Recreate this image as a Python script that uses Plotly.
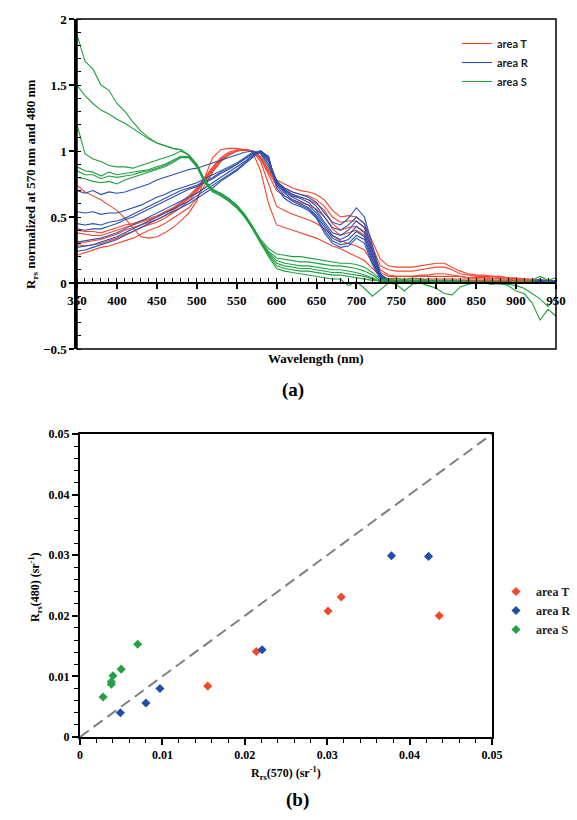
import plotly.graph_objects as go

# ---------------- data: panel (a) spectra, sampled every 10 nm ----------------
W = list(range(350, 951, 10))

# area T (red)
t1 = [0.74,0.69,0.66,0.63,0.59,0.55,0.49,0.42,0.35,0.34,0.35,
      0.38,0.42,0.47,0.53,0.62,0.80,0.95,1.01,1.02,1.02,
      1.01,0.99,0.85,0.60,0.44,0.42,0.40,0.38,0.36,0.34,
      0.31,0.28,0.26,0.23,0.20,0.17,0.11,0.05,0.03,0.02,
      0.02,0.02,0.02,0.02,0.02,0.02,0.02,0.02,0.02,0.02,
      0.02,0.02,0.01,0.01,0.01,0.01,0.01,0.01,0.01,0.01]
t2 = [0.40,0.39,0.39,0.38,0.40,0.42,0.44,0.45,0.47,0.49,0.51,
      0.54,0.57,0.61,0.66,0.72,0.80,0.88,0.95,0.99,1.01,
      1.01,1.00,0.96,0.86,0.78,0.75,0.72,0.70,0.69,0.67,
      0.63,0.55,0.50,0.51,0.50,0.45,0.32,0.18,0.13,0.12,
      0.12,0.12,0.13,0.14,0.15,0.15,0.12,0.09,0.07,0.06,
      0.06,0.05,0.05,0.04,0.04,0.03,0.03,0.02,0.02,0.01]
t3 = [0.38,0.37,0.36,0.36,0.38,0.40,0.42,0.44,0.46,0.48,0.50,
      0.53,0.56,0.60,0.65,0.71,0.79,0.87,0.94,0.98,1.00,
      1.01,1.00,0.95,0.85,0.76,0.72,0.69,0.67,0.66,0.63,
      0.58,0.50,0.46,0.47,0.47,0.42,0.28,0.13,0.10,0.09,
      0.09,0.09,0.10,0.11,0.12,0.12,0.10,0.07,0.06,0.05,
      0.05,0.05,0.04,0.04,0.03,0.03,0.02,0.02,0.02,0.01]
t4 = [0.31,0.31,0.32,0.33,0.35,0.37,0.40,0.42,0.44,0.46,0.48,
      0.51,0.55,0.59,0.64,0.70,0.78,0.86,0.93,0.97,1.00,
      1.01,1.00,0.94,0.82,0.70,0.66,0.63,0.61,0.59,0.56,
      0.50,0.41,0.36,0.38,0.40,0.36,0.22,0.08,0.05,0.05,
      0.05,0.05,0.05,0.05,0.05,0.05,0.05,0.05,0.04,0.04,
      0.04,0.04,0.03,0.03,0.03,0.02,0.02,0.02,0.01,0.01]
t5 = [0.29,0.28,0.29,0.30,0.32,0.34,0.37,0.39,0.42,0.44,0.46,
      0.49,0.53,0.57,0.62,0.69,0.77,0.85,0.92,0.97,1.00,
      1.01,1.00,0.92,0.75,0.58,0.55,0.52,0.50,0.48,0.45,
      0.41,0.36,0.32,0.30,0.28,0.25,0.16,0.06,0.03,0.03,
      0.03,0.03,0.03,0.03,0.03,0.03,0.03,0.03,0.03,0.03,
      0.03,0.02,0.02,0.02,0.02,0.02,0.01,0.01,0.01,0.01]
t6 = [0.21,0.23,0.25,0.27,0.28,0.30,0.32,0.34,0.37,0.40,0.42,
      0.45,0.49,0.53,0.57,0.64,0.74,0.84,0.92,0.97,1.00,
      1.01,1.00,0.95,0.84,0.74,0.70,0.67,0.65,0.63,0.60,
      0.55,0.45,0.40,0.42,0.43,0.39,0.25,0.10,0.06,0.05,
      0.05,0.05,0.06,0.06,0.07,0.07,0.06,0.05,0.04,0.04,
      0.04,0.03,0.03,0.03,0.02,0.02,0.02,0.01,0.01,0.01]

# area R (blue)
r1 = [0.70,0.68,0.70,0.67,0.69,0.68,0.69,0.71,0.73,0.75,0.78,
      0.80,0.82,0.84,0.86,0.87,0.89,0.91,0.93,0.95,0.97,
      0.99,1.00,0.98,0.88,0.77,0.72,0.69,0.67,0.65,0.61,
      0.53,0.46,0.44,0.49,0.57,0.50,0.28,0.07,0.02,0.01,
      0.01,0.01,0.01,0.01,0.01,0.01,0.01,0.01,0.01,0.01,
      0.01,0.01,0.01,0.01,0.00,0.00,0.00,0.01,0.02,0.01]
r2 = [0.54,0.53,0.54,0.52,0.53,0.53,0.55,0.57,0.59,0.62,0.65,
      0.67,0.70,0.72,0.74,0.76,0.79,0.82,0.85,0.88,0.91,
      0.95,0.99,0.99,0.90,0.77,0.71,0.67,0.65,0.63,0.58,
      0.50,0.42,0.40,0.44,0.50,0.45,0.25,0.06,0.02,0.01,
      0.01,0.01,0.01,0.01,0.01,0.01,0.01,0.01,0.01,0.01,
      0.01,0.01,0.01,0.00,0.00,0.00,0.00,0.02,0.01,0.01]
r3 = [0.45,0.44,0.45,0.44,0.46,0.47,0.49,0.52,0.55,0.58,0.61,
      0.64,0.67,0.70,0.72,0.74,0.77,0.80,0.84,0.87,0.90,
      0.94,0.98,1.00,0.92,0.78,0.70,0.66,0.64,0.61,0.55,
      0.46,0.38,0.36,0.40,0.47,0.42,0.22,0.05,0.02,0.01,
      0.01,0.01,0.01,0.01,0.01,0.01,0.01,0.01,0.01,0.01,
      0.01,0.01,0.00,0.00,0.00,0.00,0.01,0.03,0.01,0.02]
r4 = [0.41,0.40,0.41,0.41,0.43,0.45,0.48,0.50,0.53,0.56,0.59,
      0.62,0.65,0.68,0.71,0.73,0.76,0.79,0.83,0.86,0.90,
      0.94,0.98,1.00,0.93,0.76,0.69,0.65,0.62,0.59,0.53,
      0.44,0.36,0.33,0.36,0.43,0.38,0.20,0.05,0.02,0.01,
      0.01,0.01,0.01,0.01,0.01,0.01,0.01,0.01,0.01,0.01,
      0.01,0.00,0.00,0.00,0.00,0.00,0.00,0.01,0.00,0.01]
r5 = [0.31,0.32,0.33,0.34,0.36,0.38,0.41,0.44,0.47,0.50,0.53,
      0.56,0.59,0.62,0.65,0.68,0.72,0.76,0.80,0.84,0.88,
      0.92,0.97,1.00,0.94,0.76,0.68,0.63,0.60,0.57,0.51,
      0.42,0.34,0.31,0.33,0.39,0.35,0.18,0.04,0.01,0.01,
      0.01,0.01,0.01,0.01,0.01,0.01,0.01,0.01,0.01,0.01,
      0.00,0.00,0.00,0.00,0.00,0.00,0.00,0.02,0.01,0.00]
r6 = [0.27,0.28,0.29,0.31,0.33,0.35,0.38,0.41,0.44,0.47,0.50,
      0.53,0.56,0.59,0.62,0.66,0.70,0.74,0.78,0.82,0.86,
      0.91,0.96,1.00,0.95,0.74,0.66,0.62,0.59,0.56,0.50,
      0.40,0.32,0.29,0.30,0.36,0.33,0.16,0.04,0.01,0.01,
      0.01,0.01,0.01,0.01,0.01,0.01,0.01,0.01,0.00,0.00,
      0.00,0.00,0.00,0.00,0.00,0.00,0.00,0.01,0.02,0.01]
r7 = [0.24,0.25,0.27,0.29,0.31,0.33,0.36,0.39,0.42,0.45,0.48,
      0.51,0.54,0.57,0.60,0.64,0.68,0.72,0.77,0.81,0.85,
      0.90,0.95,1.00,0.96,0.72,0.64,0.60,0.58,0.55,0.49,
      0.38,0.30,0.27,0.28,0.34,0.30,0.14,0.03,0.01,0.00,
      0.00,0.00,0.00,0.00,0.00,0.00,0.00,0.00,0.00,0.00,
      0.00,0.00,0.00,0.00,0.00,0.00,0.00,0.01,0.00,0.01]

# area S (green)
s1 = [1.88,1.68,1.62,1.50,1.46,1.36,1.30,1.22,1.15,1.10,1.06,
      1.04,1.02,1.01,0.97,0.90,0.78,0.71,0.68,0.64,0.59,
      0.52,0.43,0.33,0.26,0.22,0.21,0.20,0.20,0.19,0.18,
      0.17,0.16,0.15,0.15,0.14,0.12,0.08,0.03,0.02,0.02,
      0.02,0.02,0.02,0.02,0.02,0.02,0.02,0.02,0.01,0.01,
      0.01,0.01,0.01,0.01,0.01,0.01,0.01,0.00,0.01,0.00]
s2 = [1.50,1.42,1.36,1.31,1.28,1.24,1.21,1.17,1.13,1.09,1.06,
      1.04,1.02,1.01,0.97,0.90,0.78,0.70,0.68,0.64,0.59,
      0.52,0.43,0.32,0.24,0.19,0.18,0.17,0.16,0.16,0.15,
      0.14,0.13,0.13,0.12,0.11,0.09,0.06,0.02,0.01,0.01,
      0.01,0.01,0.01,0.01,0.01,0.01,0.01,0.01,0.01,0.01,
      0.01,0.01,0.01,0.00,0.00,0.00,0.00,0.00,0.00,0.00]
s3 = [1.20,0.98,0.94,0.92,0.89,0.88,0.88,0.87,0.89,0.91,0.93,
      0.95,0.97,1.00,0.97,0.90,0.77,0.70,0.67,0.63,0.58,
      0.51,0.42,0.31,0.23,0.17,0.15,0.14,0.13,0.13,0.12,
      0.11,0.10,0.10,0.09,0.08,0.06,0.04,0.01,0.01,0.01,
      0.01,0.01,0.01,0.01,0.01,0.01,0.01,0.01,0.01,0.01,
      0.01,0.01,0.01,0.00,0.00,0.00,0.00,0.00,0.00,0.00]
s4 = [0.88,0.85,0.84,0.81,0.84,0.82,0.83,0.84,0.85,0.86,0.88,
      0.90,0.93,0.96,0.96,0.89,0.77,0.70,0.67,0.63,0.58,
      0.51,0.42,0.31,0.22,0.15,0.13,0.12,0.11,0.11,0.10,
      0.09,0.08,0.08,0.07,0.06,0.05,0.03,0.01,0.01,0.01,
      0.01,0.01,0.01,0.01,0.01,0.01,0.01,0.01,0.01,0.01,
      0.01,0.01,0.01,0.01,0.00,0.00,0.02,0.05,0.02,0.04]
s5 = [0.85,0.82,0.82,0.79,0.81,0.80,0.81,0.82,0.84,0.85,0.87,
      0.89,0.92,0.95,0.96,0.89,0.76,0.69,0.66,0.62,0.57,
      0.50,0.41,0.30,0.21,0.13,0.11,0.10,0.09,0.09,0.08,
      0.07,0.06,0.06,0.05,0.04,0.03,0.02,0.02,0.03,0.04,
      0.02,0.04,0.03,0.02,0.01,0.01,0.00,0.01,0.01,0.00,
      0.00,0.00,-0.01,-0.01,-0.02,-0.04,-0.08,-0.12,-0.18,-0.10]
s6 = [0.80,0.79,0.77,0.76,0.77,0.75,0.78,0.80,0.82,0.84,0.86,
      0.88,0.91,0.95,0.95,0.88,0.76,0.69,0.66,0.62,0.57,
      0.50,0.41,0.30,0.20,0.11,0.09,0.08,0.07,0.06,0.05,
      0.04,0.03,0.03,-0.02,0.01,-0.04,-0.10,-0.05,0.00,-0.01,
      -0.06,-0.01,0.00,-0.02,-0.04,-0.08,-0.09,-0.03,-0.01,0.00,
      0.00,-0.01,0.00,-0.02,-0.06,-0.08,-0.15,-0.28,-0.20,-0.25]

area_T_spectra = [t1, t2, t3, t4, t5, t6]
area_R_spectra = [r1, r2, r3, r4, r5, r6, r7]
area_S_spectra = [s1, s2, s3, s4, s5, s6]

# ---------------- data: panel (b) Rrs(570) vs Rrs(480) ----------------
T_x = [0.0155, 0.0214, 0.0301, 0.0317, 0.0436]
T_y = [0.0084, 0.0141, 0.0208, 0.0231, 0.0200]
R_x = [0.0049, 0.0080, 0.0097, 0.0221, 0.0378, 0.0423]
R_y = [0.0040, 0.0056, 0.0080, 0.0144, 0.0299, 0.0298]
S_x = [0.0028, 0.0038, 0.0038, 0.0040, 0.0050, 0.0070]
S_y = [0.0066, 0.0087, 0.0091, 0.0101, 0.0112, 0.0153]
one_to_one = [0.0, 0.05]

RED, BLUE, GREEN = "#F2452A", "#2A4FB0", "#21A040"
RED_P, BLUE_P, GREEN_P = "#F2492D", "#1F4EA8", "#23A047"

fig = go.Figure()

for name, color, curves in [("area T", RED, area_T_spectra),
                            ("area R", BLUE, area_R_spectra),
                            ("area S", GREEN, area_S_spectra)]:
    for i, ys in enumerate(curves):
        fig.add_trace(go.Scatter(x=W, y=ys, mode="lines", name=name,
                                 line=dict(color=color, width=1.1),
                                 showlegend=(i == 0), legend="legend",
                                 xaxis="x", yaxis="y", hoverinfo="skip"))

fig.add_trace(go.Scatter(x=one_to_one, y=one_to_one, mode="lines",
                         line=dict(color="#808080", width=2, dash="11px,6px"),
                         showlegend=False, xaxis="x2", yaxis="y2"))
for name, color, xs, ys in [("area T", RED_P, T_x, T_y),
                            ("area R", BLUE_P, R_x, R_y),
                            ("area S", GREEN_P, S_x, S_y)]:
    fig.add_trace(go.Scatter(x=xs, y=ys, mode="markers", name=name,
                             marker=dict(symbol="diamond", size=7, color=color),
                             legend="legend2", xaxis="x2", yaxis="y2"))

W_, H_ = 577, 820
def px(x): return x / W_
def py(y): return 1 - y / H_

serif = "Liberation Serif, Times New Roman, serif"
tickf = dict(family=serif, size=13, color="black", weight="bold")
tickf2 = dict(family=serif, size=12, color="black", weight="bold")

ya0 = py(349); ya1 = py(19)
y_zero = ya0 + (ya1 - ya0) * 0.5 / 2.5

fig.update_layout(
    width=W_, height=H_, margin=dict(l=0, r=0, t=0, b=0),
    paper_bgcolor="white", plot_bgcolor="white", showlegend=True,
    xaxis=dict(domain=[px(77), px(556)], range=[350, 950], anchor="free", position=y_zero,
               tick0=350, dtick=50, ticks="outside", ticklen=5, tickwidth=1.5, tickcolor="black",
               showline=True, linecolor="black", linewidth=2, showgrid=False, zeroline=False,
               tickfont=tickf, automargin=False,
               minor=dict(dtick=10, ticks="inside", ticklen=4, tickwidth=1, tickcolor="black", showgrid=False)),
    yaxis=dict(domain=[ya0, ya1], range=[-0.5, 2], anchor="x", dtick=0.5,
               ticks="outside", ticklen=5, tickwidth=1.5, tickcolor="black",
               showline=True, linecolor="black", linewidth=2.5, showgrid=False, zeroline=False,
               tickfont=tickf, automargin=False,
               minor=dict(dtick=0.1, ticks="inside", ticklen=4, tickwidth=1, tickcolor="black", showgrid=False)),
    xaxis2=dict(domain=[px(80), px(492)], range=[0, 0.05], anchor="y2", dtick=0.01,
                ticks="outside", ticklen=6, tickwidth=1.5, tickcolor="black",
                showline=True, mirror=True, linecolor="black", linewidth=2, showgrid=False, zeroline=False,
                tickfont=tickf2, automargin=False,
                minor=dict(dtick=0.002, ticks="outside", ticklen=4, tickwidth=1, tickcolor="black", showgrid=False)),
    yaxis2=dict(domain=[py(737), py(434)], range=[0, 0.05], anchor="x2", dtick=0.01,
                ticks="outside", ticklen=6, tickwidth=1.5, tickcolor="black",
                showline=True, mirror=True, linecolor="black", linewidth=2, showgrid=False, zeroline=False,
                tickfont=tickf2, automargin=False,
                minor=dict(dtick=0.002, ticks="outside", ticklen=4, tickwidth=1, tickcolor="black", showgrid=False)),
    legend=dict(x=px(457), y=py(29), xanchor="left", yanchor="top",
                font=dict(family="Lato", size=11, color="#222222", weight="bold"),
                bgcolor="rgba(0,0,0,0)", itemwidth=30, tracegroupgap=0, traceorder="normal"),
    legend2=dict(x=px(496), y=py(577), xanchor="left", yanchor="top",
                 font=dict(family=serif, size=12, color="#222222", weight="bold"),
                 bgcolor="rgba(0,0,0,0)", itemwidth=30, tracegroupgap=0, traceorder="normal"),
    shapes=[dict(type="rect", xref="x domain", yref="y domain", x0=0, x1=1, y0=0, y1=1,
                 line=dict(color="black", width=1.5), layer="above")],
)

def label(text, x, y, size=13, angle=0):
    fig.add_annotation(text=text, textangle=angle, x=px(x), y=py(y), xref="paper", yref="paper",
                       xanchor="center", yanchor="middle", showarrow=False,
                       font=dict(family=serif, size=size, color="black", weight="bold"))

label("R<sub>rs</sub> normalized at 570 nm and 480 nm", 32, 184, 13, -90)
label("Wavelength (nm)", 316, 359, 13)
label("(a)", 293, 390, 19)
label("R<sub>rs</sub>(480) (sr<sup>-1</sup>)", 35, 587, 12, -90)
label("R<sub>rs</sub>(570) (sr<sup>-1</sup>)", 286, 773, 12)
label("(b)", 297, 800, 19)

fig.write_html("out.html", config={"displayModeBar": False},
               post_script="document.body.style.margin='0px';document.body.style.overflow='hidden';")
